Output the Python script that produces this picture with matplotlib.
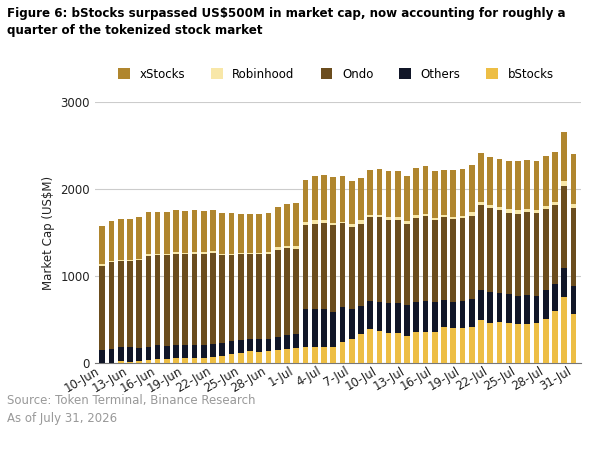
import numpy as np
import pandas as pd
import matplotlib
matplotlib.use('Agg')
import matplotlib.pyplot as plt

dates = pd.date_range('2026-06-10', '2026-07-31', freq='D')
labels = [d.strftime('%-d-%b') for d in dates]

# cumulative levels (top of each segment, US$M)
bstocks_top = [0, 0, 25, 15, 20, 35, 45, 45, 55, 55, 55, 55, 65, 80, 100, 120, 135, 125, 135, 155, 165, 170,
               190, 190, 190, 191, 241, 279, 332, 390, 374, 344, 344, 317, 363, 363, 355, 413, 401, 401, 420,
               497, 466, 478, 459, 447, 447, 459, 512, 600, 757, 566]
others_top = [155, 165, 180, 180, 170, 190, 210, 200, 210, 210, 210, 210, 225, 235, 250, 270, 280, 280, 280, 300, 320, 330,
              620, 620, 620, 592, 642, 623, 657, 718, 707, 688, 688, 669, 699, 718, 699, 730, 707, 718, 741,
              841, 818, 810, 795, 776, 783, 776, 841, 909, 1089, 887]
ondo_top = [1115, 1160, 1170, 1170, 1180, 1230, 1240, 1240, 1260, 1255, 1260, 1260, 1270, 1240, 1240, 1250, 1250, 1250, 1260, 1305, 1320, 1315,
            1590, 1600, 1610, 1586, 1616, 1567, 1597, 1677, 1677, 1651, 1643, 1605, 1674, 1697, 1643, 1677, 1655, 1666, 1697,
            1823, 1785, 1765, 1731, 1720, 1739, 1727, 1777, 1819, 2040, 1788]
robinhood_top = [1135, 1175, 1190, 1190, 1200, 1250, 1255, 1255, 1275, 1270, 1275, 1275, 1285, 1255, 1255, 1265, 1265, 1265, 1280, 1330, 1345, 1350,
                 1625, 1645, 1645, 1616, 1624, 1597, 1643, 1708, 1708, 1681, 1675, 1632, 1700, 1720, 1670, 1700, 1681, 1693, 1739,
                 1853, 1815, 1796, 1769, 1758, 1777, 1758, 1811, 1857, 2090, 1834]
total = [1575, 1630, 1660, 1660, 1680, 1740, 1740, 1740, 1760, 1750, 1760, 1750, 1760, 1725, 1725, 1715, 1715, 1715, 1725, 1800, 1830, 1840,
         2110, 2150, 2160, 2140, 2150, 2094, 2128, 2216, 2235, 2205, 2205, 2151, 2247, 2270, 2205, 2224, 2216, 2228, 2281,
         2419, 2369, 2350, 2320, 2320, 2339, 2327, 2384, 2430, 2660, 2407]

levels = np.array([np.zeros(len(total)), bstocks_top, others_top, ondo_top, robinhood_top, total], dtype=float)
segments = np.diff(levels, axis=0)
names = ['bStocks', 'Others', 'Ondo', 'Robinhood', 'xStocks']
colors = ['#EDBE45', '#111628', '#6B4D1E', '#F8E7A8', '#B0862E']

fig = plt.figure(figsize=(6, 4.5), dpi=100)
ax = fig.add_axes([0.158, 0.193, 0.81, 0.58])
x = np.arange(len(total))
for i in range(5):
    ax.bar(x, segments[i], bottom=levels[i], width=0.62, color=colors[i], label=names[i], zorder=3)

ax.set_ylim(0, 3000)
ax.set_xlim(-0.8, len(total) - 0.2)
ax.set_yticks([0, 1000, 2000, 3000])
ax.tick_params(axis='y', length=0, labelsize=8.5, labelcolor='#222222')
ax.set_xticks(x[::3])
ax.set_xticklabels(labels[::3], rotation=30, ha='right', fontsize=8.5, color='#222222')
ax.tick_params(axis='x', length=0, pad=1)
ax.grid(axis='y', color='#cccccc', linewidth=0.8, zorder=0)
for s in ['top', 'right', 'left']:
    ax.spines[s].set_visible(False)
ax.spines['bottom'].set_color('#777777')
ax.set_ylabel('Market Cap (US$M)', fontsize=8.5, color='#222222')

h, l = ax.get_legend_handles_labels()
order = [4, 3, 2, 1, 0]
fig.legend([h[i] for i in order], [l[i] for i in order], loc='center', bbox_to_anchor=(0.56, 0.835),
           ncol=5, frameon=False, fontsize=8.5, handlelength=1.0, handleheight=1.0, columnspacing=2.2)

fig.text(0.012, 0.985, 'Figure 6: bStocks surpassed US$500M in market cap, now accounting for roughly a\nquarter of the tokenized stock market',
         fontsize=8.6, fontweight='bold', va='top', ha='left', linespacing=1.4)
fig.text(0.012, 0.055, 'Source: Token Terminal, Binance Research\nAs of July 31, 2026', fontsize=8.5,
         color='#999999', va='bottom', ha='left', linespacing=1.5)

fig.savefig('out.png', dpi=100)
